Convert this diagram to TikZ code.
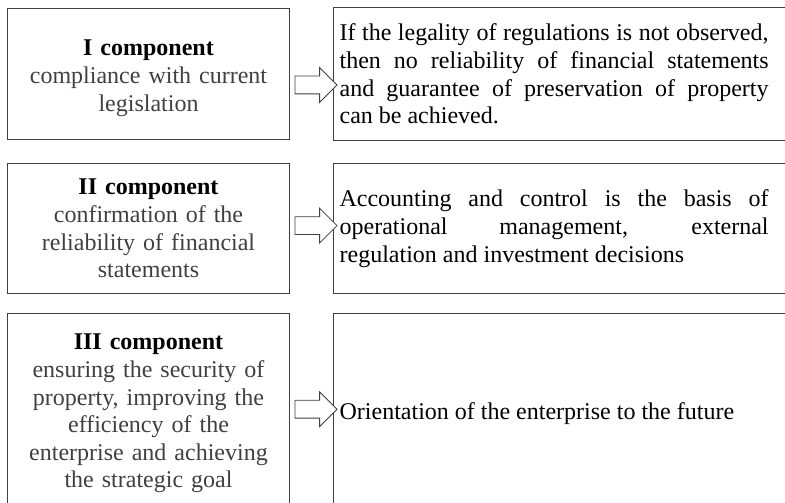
\documentclass[tikz,border=0pt]{standalone}
\usepackage{fontspec}
\setmainfont{Liberation Serif}
\usepackage{tikz}
\usetikzlibrary{positioning,calc,shapes.arrows}
\definecolor{lineGray}{HTML}{3F3F3F}
\definecolor{noteGray}{HTML}{404040}
\hyphenpenalty=10000
\begin{document}
\begin{tikzpicture}[x=1pt,y=-1pt,
  font=\fontsize{24}{27.6}\selectfont,
  comp/.style={draw=lineGray,line width=1.1pt,align=center,text width=270pt,minimum width=282pt,inner xsep=4pt,inner ysep=2pt},
  res/.style={draw=lineGray,line width=1.1pt,align=justify,text width=446pt,inner xsep=6pt,inner ysep=2pt},
  blockarr/.style={draw=lineGray,line width=0.8pt,fill=white,single arrow,single arrow head extend=8.5pt,inner xsep=0pt,inner ysep=8.5pt,minimum height=42pt}]
  \useasboundingbox (0,0) rectangle (785,503);
  \clip (0,0) rectangle (785,503);
  % components
  \node[comp,minimum height=131pt,execute at begin node={\rule{0pt}{24pt}}] (comp1) at (148.5,74) {\textbf{I component}\\\textcolor{noteGray}{compliance with current}\\\textcolor{noteGray}{legislation}};
  \node[comp,minimum height=130pt,below=23pt of comp1] (comp2) {\textbf{II component}\\\textcolor{noteGray}{confirmation of the}\\\textcolor{noteGray}{reliability of financial}\\\textcolor{noteGray}{statements}};
  \node[comp,minimum height=200pt,below=19pt of comp2] (comp3) {\textbf{III component}\\\textcolor{noteGray}{ensuring the security of}\\\textcolor{noteGray}{property, improving the}\\\textcolor{noteGray}{efficiency of the}\\\textcolor{noteGray}{enterprise and achieving}\\\textcolor{noteGray}{the strategic goal}};
  % results
  \node[res,minimum height=133pt,right=43pt of comp1] (res1) {\parbox{429pt}{If the legality of regulations is not observed,\linebreak then no reliability of financial statements\linebreak and guarantee of preservation of property\linebreak can be achieved.}};
  \node[res,minimum height=130pt,right=43pt of comp2] (res2) {\parbox{429pt}{Accounting and control is the basis of\linebreak operational management, external\linebreak regulation and investment decisions}};
  \node[res,minimum height=200pt,right=43pt of comp3] (res3) {\parbox{429pt}{Orientation of the enterprise to the future}};
  % arrows
  \node[blockarr] (arr1) at ($(comp1.east)!.5!(res1.west)+(0,11)$) {};
  \node[blockarr] (arr2) at ($(comp2.east)!.5!(res2.west)+(0,-3)$) {};
  \node[blockarr] (arr3) at ($(comp3.east)!.5!(res3.west)+(0,-4.5)$) {};
\end{tikzpicture}
\end{document}
